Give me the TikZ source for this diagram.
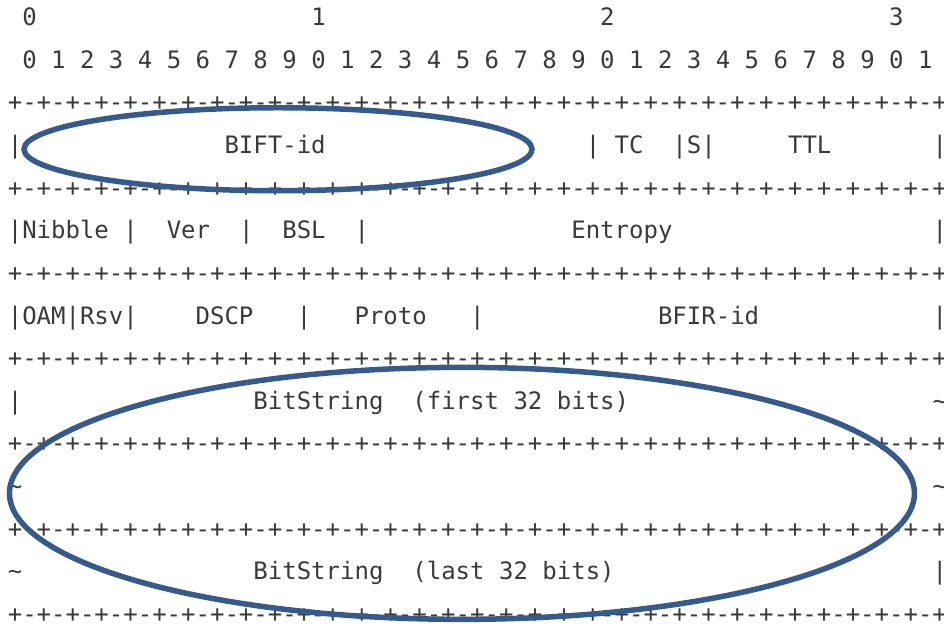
\documentclass[tikz,border=0pt]{standalone}
\usepackage{fontspec}
\newfontfamily\hdrmono{DejaVu Sans Mono}
\usetikzlibrary{positioning}
\definecolor{ctext}{RGB}{58, 58, 58}
\definecolor{cring}{RGB}{54, 90, 140}
\newcommand{\sepline}{+-+-+-+-+-+-+-+-+-+-+-+-+-+-+-+-+-+-+-+-+-+-+-+-+-+-+-+-+-+-+-+-+}
\tikzset{
  txt/.style={anchor=base west, inner sep=0pt, outer sep=0pt, text=ctext,
              yshift=-8.5pt, font=\hdrmono\fontsize{24}{24}\selectfont},
  ring/.style={draw=cring, line width=5.5pt},
}

\begin{document}
\begin{tikzpicture}[x=14.45pt, y=-42.64pt]
\useasboundingbox (-1.04,-0.4) rectangle (64.29,14.28);

% ---------- bit ruler ----------
\foreach \d [count=\k from 0] in {0,1,2,3}
  \node[txt] (tens\k) at (20*\k+0.5,0) {\d};
\foreach \b [evaluate=\b as \u using {int(mod(\b,10))}] in {0,...,31}
  \node[txt] (unit\b) at (2*\b+0.5,1) {\u};

% ---------- separator lines ----------
\foreach \r in {2,4,...,14}
  \node[txt] (sep\r) at (-0.5,\r) {\sepline};

% ---------- word 1 ----------
\node[txt] (bar3a) at (-0.5,3) {|};
\node[txt] (bift) at (14.5,3) {BIFT-id};
\node[txt] (bar3b) at (39.5,3) {|};
\node[txt] (tc) at (41.5,3) {TC};
\node[txt] (sflag) at (45.5,3) {|S|};
\node[txt] (ttl) at (53.5,3) {TTL};
\node[txt] (bar3c) at (63.5,3) {|};

% ---------- word 2 ----------
\node[txt] (nibble) at (-0.5,5) {|Nibble};
\node[txt] (bar5a) at (7.5,5) {|};
\node[txt] (ver) at (10.5,5) {Ver};
\node[txt] (bar5b) at (15.5,5) {|};
\node[txt] (bsl) at (18.5,5) {BSL};
\node[txt] (bar5c) at (23.5,5) {|};
\node[txt] (entropy) at (38.5,5) {Entropy};
\node[txt] (bar5d) at (63.5,5) {|};

% ---------- word 3 ----------
\node[txt] (oamrsv) at (-0.5,7) {|OAM|Rsv|};
\node[txt] (dscp) at (12.5,7) {DSCP};
\node[txt] (bar7a) at (19.5,7) {|};
\node[txt] (proto) at (23.5,7) {Proto};
\node[txt] (bar7b) at (31.5,7) {|};
\node[txt] (bfir) at (44.5,7) {BFIR-id};
\node[txt] (bar7c) at (63.5,7) {|};

% ---------- bitstring ----------
\node[txt] (bar9) at (-0.5,9) {|};
\node[txt] (bsfirst) at (16.5,9) {BitString};
\node[txt] (bsfirstlab) at (27.5,9) {(first 32 bits)};
\node[txt] (tilde9) at (63.5,9) {\textasciitilde};
\node[txt] (tilde11a) at (-0.5,11) {\textasciitilde};
\node[txt] (tilde11b) at (63.5,11) {\textasciitilde};
\node[txt] (tilde13) at (-0.5,13) {\textasciitilde};
\node[txt] (bslast) at (16.5,13) {BitString};
\node[txt] (bslastlab) at (27.5,13) {(last 32 bits)};
\node[txt] (bar13) at (63.5,13) {|};

% ---------- highlight rings ----------
\draw[ring] (18.2,3.10) ellipse [x radius=254pt, y radius=41.5pt];
\draw[ring] (30.93,11.17) ellipse [x radius=452.5pt, y radius=126pt];

\end{tikzpicture}
\end{document}
